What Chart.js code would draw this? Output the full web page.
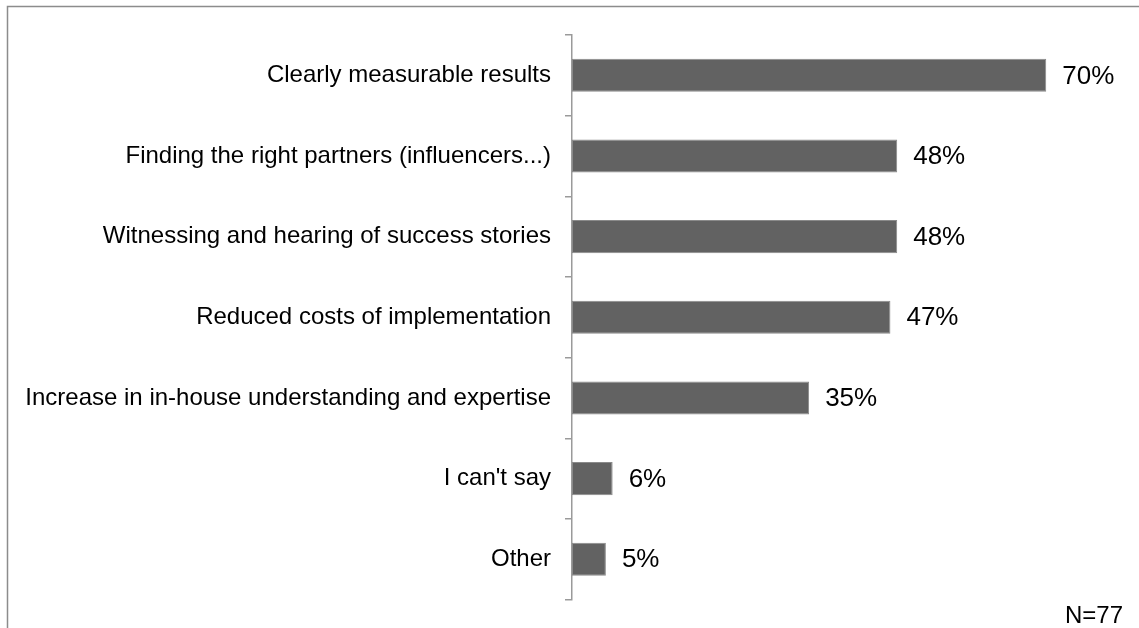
<!DOCTYPE html>
<html>
<head>
<meta charset="utf-8">
<script src="https://cdn.jsdelivr.net/npm/chart.js@4/dist/chart.umd.min.js"></script>
<style>
  html, body { margin: 0; padding: 0; background: #fff; }
  #wrap { width: 1139px; height: 628px; position: relative; }
</style>
</head>
<body>
<div id="wrap"><canvas id="c" width="1139" height="628"></canvas></div>
<script>
const categories = [
  "Clearly measurable results",
  "Finding the right partners (influencers...)",
  "Witnessing and hearing of success stories",
  "Reduced costs of implementation",
  "Increase in in-house understanding and expertise",
  "I can't say",
  "Other"
];
const values = [70, 48, 48, 47, 35, 6, 5];
const valueLabels = ["70%", "48%", "48%", "47%", "35%", "6%", "5%"];
const sampleNote = "N=77";

const FONT = "'Liberation Sans', Arial, sans-serif";

const framePlugin = {
  id: 'frame',
  beforeDraw(chart) {
    const ctx = chart.ctx;
    ctx.save();
    ctx.strokeStyle = '#8c8c8c';
    ctx.lineWidth = 1.5;
    ctx.beginPath();
    ctx.moveTo(7.5, chart.height);
    ctx.lineTo(7.5, 6.5);
    ctx.lineTo(chart.width, 6.5);
    ctx.stroke();
    ctx.restore();
  }
};

const labelPlugin = {
  id: 'valueLabels',
  afterDatasetsDraw(chart) {
    const ctx = chart.ctx;
    const meta = chart.getDatasetMeta(0);
    ctx.save();
    ctx.fillStyle = '#000';
    ctx.font = '26px ' + FONT;
    ctx.textAlign = 'left';
    ctx.textBaseline = 'middle';
    meta.data.forEach((bar, i) => {
      ctx.fillText(valueLabels[i], bar.x + 16, bar.y + 1);
    });
    ctx.font = '24px ' + FONT;
    ctx.textAlign = 'right';
    ctx.textBaseline = 'alphabetic';
    ctx.fillText(sampleNote, 1123, 623);
    ctx.restore();
  }
};

new Chart(document.getElementById('c'), {
  type: 'bar',
  data: {
    labels: categories,
    datasets: [{
      data: values,
      backgroundColor: '#626262',
      borderColor: '#8a8a8a',
      borderWidth: 1,
      borderSkipped: false,
      barPercentage: 0.41,
      categoryPercentage: 1
    }]
  },
  options: {
    indexAxis: 'y',
    responsive: false,
    animation: false,
    layout: { padding: { left: 0, right: 25, top: 35, bottom: 28 } },
    plugins: {
      legend: { display: false },
      tooltip: { enabled: false }
    },
    scales: {
      x: {
        display: false,
        min: 0,
        max: 80
      },
      y: {
        afterFit(scale) { scale.width = 572; },
        grid: {
          offset: true,
          drawOnChartArea: false,
          drawTicks: true,
          tickLength: 7,
          color: '#9a9a9a',
          lineWidth: 1.5
        },
        border: { display: true, color: '#9a9a9a', width: 1.5 },
        ticks: {
          color: '#000',
          padding: 14,
          font: { family: FONT, size: 24 }
        }
      }
    }
  },
  plugins: [framePlugin, labelPlugin]
});
</script>
</body>
</html>
